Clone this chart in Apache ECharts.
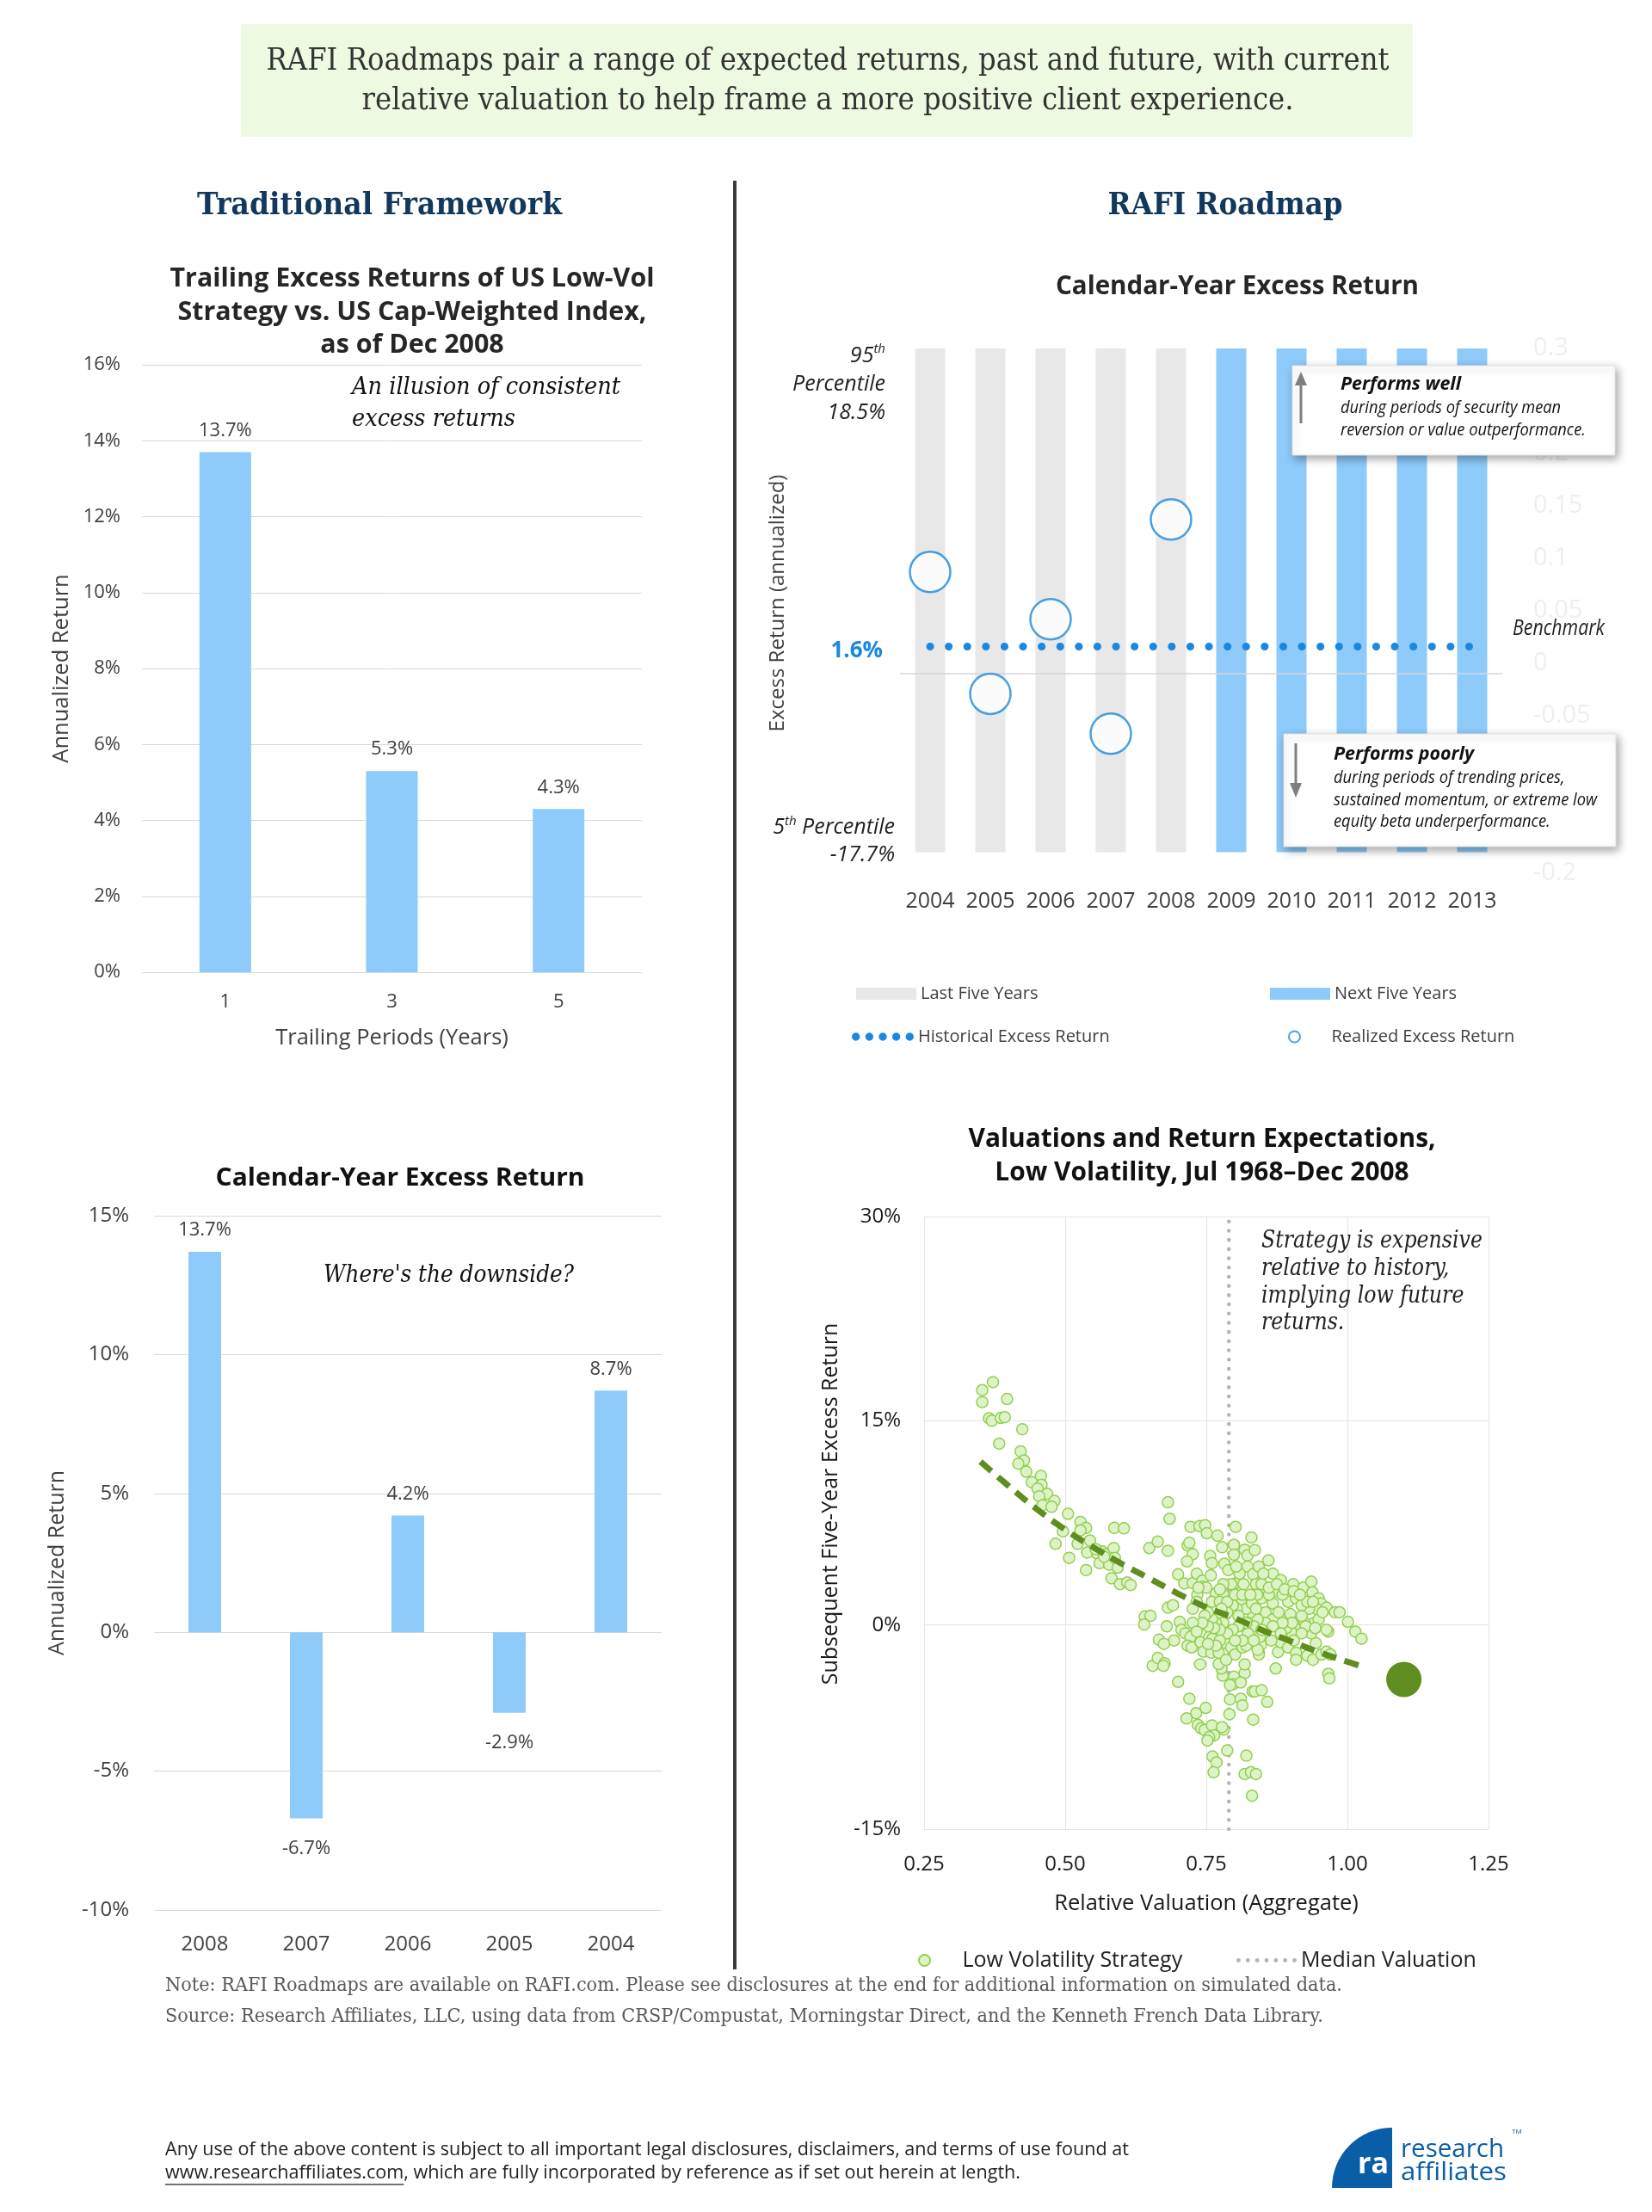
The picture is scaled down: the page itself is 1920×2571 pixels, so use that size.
<!DOCTYPE html>
<html><head><meta charset="utf-8">
<script src="https://cdn.jsdelivr.net/npm/echarts@6/dist/echarts.min.js"></script>
<style>html,body{margin:0;padding:0;background:#fff}#c{width:1920px;height:2571px}</style>
</head><body><div id="c"></div>
<script>
// ---------------- DATA ----------------
const trailingPeriods = ['1', '3', '5'];
const trailingExcess = [13.7, 5.3, 4.3];

const calYears = ['2008', '2007', '2006', '2005', '2004'];
const calExcess = [13.7, -6.7, 4.2, -2.9, 8.7];

const roadmapYears = ['2004','2005','2006','2007','2008','2009','2010','2011','2012','2013'];
const lastFiveUpper = [30, 30, 30, 30, 30, '-', '-', '-', '-', '-'];
const lastFiveLower = [-18, -18, -18, -18, -18, '-', '-', '-', '-', '-'];
const nextFiveUpper = ['-', '-', '-', '-', '-', 30, 30, 30, 30, 30];
const nextFiveLower = ['-', '-', '-', '-', '-', -18, -18, -18, -18, -18];
const historicalExcess = [1.6, 1.6, 1.6, 1.6, 1.6, 1.6, 1.6, 1.6, 1.6, 1.6];
const realizedExcess = [8.7, -2.9, 4.2, -6.7, 13.7, '-', '-', '-', '-', '-'];
const roadmapBaseLevel = -1;

const lowVolValuation = [
0.372,0.353,0.353,0.397,0.365,0.370,0.386,0.393,0.424,0.383,0.421,0.427,0.417,0.431,0.457,0.441,0.458,0.451,0.468,0.454,
0.481,0.460,0.476,0.505,0.527,0.537,0.527,0.496,0.522,0.544,0.483,0.507,0.539,0.557,0.537,0.566,0.572,0.586,0.561,0.578,
0.588,0.593,0.582,0.597,0.610,0.616,0.587,0.604,0.554,0.569,0.649,0.664,0.682,0.682,0.685,0.722,0.738,0.748,0.751,0.770,
0.802,0.830,0.717,0.720,0.726,0.716,0.700,0.711,0.726,0.733,0.743,0.744,0.757,0.760,0.758,0.734,0.767,0.780,0.778,0.799,
0.799,0.782,0.789,0.801,0.818,0.823,0.836,0.823,0.833,0.843,0.860,0.868,0.882,0.838,0.851,0.875,0.904,0.922,0.936,0.938,
0.949,0.953,0.963,0.978,0.986,1.001,1.014,1.025,0.641,0.651,0.640,0.682,0.691,0.680,0.703,0.706,0.713,0.722,0.693,0.666,
0.675,0.717,0.724,0.740,0.745,0.759,0.772,0.755,0.761,0.782,0.785,0.794,0.801,0.814,0.821,0.843,0.847,0.877,0.882,0.895,
0.909,0.909,0.929,0.939,0.944,0.954,0.963,0.970,0.966,0.963,0.655,0.664,0.676,0.674,0.700,0.739,0.720,0.732,0.715,0.749,
0.735,0.741,0.747,0.760,0.764,0.755,0.752,0.781,0.778,0.787,0.761,0.768,0.763,0.821,0.818,0.829,0.838,0.831,0.791,0.792,
0.811,0.814,0.832,0.836,0.848,0.858,0.833,0.818,0.818,0.799,0.797,0.811,0.792,0.779,0.777,0.772,0.785,0.873,0.966,0.968,
0.843,0.841,0.936,0.941,0.949,0.924,0.909,0.902,0.892,0.945,0.932,0.919,0.895,0.909,0.885,0.868,0.855,0.848,0.861,0.848,
0.840,0.889,0.868,0.855,0.841,0.834,0.824,0.828,0.814,0.811,0.821,0.804,0.797,0.787,0.774,0.780,0.767,0.760,0.753,0.747,
0.733,0.726,0.760,0.774,0.787,0.801,0.814,0.831,0.838,0.878,0.899,0.919,0.929,0.902,0.885,0.868,0.855,0.845,0.834,0.821,
0.807,0.797,0.787,0.774,0.764,0.753,0.743,0.726,0.926,0.943,0.919,0.905,0.861,0.875,0.889,0.851,0.816,0.809,0.803,0.794,
0.780,0.774,0.750,0.736,0.905,0.916,0.939,0.956,0.828,0.848,0.865,0.882,0.814,0.801,0.774,0.767,0.753,0.733,0.777,0.807
];
const lowVolReturn = [
17.84,17.25,16.37,16.60,15.18,15.00,15.21,15.26,14.38,13.32,12.75,12.08,11.85,11.26,10.95,10.48,10.30,10.02,9.63,9.45,
9.11,8.80,8.68,8.16,7.57,7.13,6.95,6.87,5.96,6.20,5.96,4.93,5.32,5.24,4.03,5.40,5.19,5.65,4.54,4.42,
4.93,4.21,3.43,3.00,3.12,2.94,7.13,7.10,5.58,5.01,5.65,6.12,5.45,9.01,7.80,7.20,7.26,7.33,6.74,6.56,
7.20,6.43,5.84,6.04,5.19,4.67,3.72,3.05,3.07,3.77,3.25,2.81,5.06,4.54,3.64,2.22,2.32,2.22,5.71,5.89,
5.16,4.49,4.03,3.05,5.53,5.11,5.50,4.29,3.72,4.29,4.75,3.77,3.30,3.00,2.81,2.48,3.00,2.74,3.18,2.40,
1.96,1.58,1.27,0.93,0.93,0.23,-0.49,-1.01,0.62,0.67,0.03,1.27,1.45,-0.10,0.23,-0.36,-0.62,-0.88,-1.14,-1.08,
-1.39,-1.52,-1.65,-1.27,-1.96,-2.04,-2.04,-0.88,-1.01,-0.88,-1.34,-1.65,-2.17,-1.65,-1.52,-2.04,-1.45,-1.99,-1.27,-1.65,
-2.04,-2.56,-2.25,-2.56,-1.34,-2.17,-1.96,-2.17,-0.49,-0.36,-3.00,-2.43,-2.81,-3.00,-4.18,-2.89,-5.42,-6.48,-6.87,-6.09,
-7.33,-7.59,-7.72,-7.38,-8.11,-8.24,-8.49,-7.69,-7.51,-9.22,-9.66,-10.10,-10.82,-9.60,-10.95,-10.82,-10.95,-12.55,-6.56,-5.47,
-5.42,-5.91,-4.88,-4.88,-4.80,-5.65,-6.95,-3.54,-2.89,-3.80,-4.36,-4.23,-4.42,-3.72,-3.20,-2.87,-2.56,-3.20,-3.59,-3.92,
-2.17,-1.83,-0.62,0.15,0.41,0.15,-0.31,-0.62,-0.23,1.19,1.19,0.67,1.70,1.96,2.22,1.58,0.93,1.96,2.22,3.00,
2.22,0.41,0.41,0.15,0.41,-0.10,-0.62,0.93,0.67,1.70,1.19,1.19,1.45,0.93,0.67,0.15,0.15,0.41,0.93,0.67,
1.70,1.19,1.70,1.70,1.70,2.22,2.22,1.58,1.19,0.93,0.80,1.45,1.70,0.15,0.15,-0.10,-0.62,-0.88,-1.14,0.15,
-0.10,-0.36,-0.62,-0.36,-0.23,-0.10,0.15,0.15,-0.10,-0.23,-0.62,-1.14,2.74,3.00,2.61,3.77,3.00,3.77,4.29,3.00,
3.00,2.61,2.74,2.74,2.48,2.22,1.70,0.93,2.22,-0.36,-1.14,-0.62,-1.14,-1.14,-1.14,-1.52,-1.39,-0.49,1.19,0.67
];
const trendValuation = [0.35, 0.40, 0.45, 0.50, 0.55, 0.60, 0.65, 0.70, 0.75, 0.80, 0.85, 0.90, 0.95, 1.00, 1.03];
const trendReturn = [12.0, 10.2, 8.5, 7.0, 5.7, 4.5, 3.4, 2.3, 1.3, 0.5, -0.4, -1.2, -2.0, -2.7, -3.1];
const currentValuation = [1.10];
const currentReturn = [-4.0];
const medianValuation = 0.79;

// ---------------- STYLE ----------------
const BLUE = '#8ecbfa', GRAY = '#e8e8e8', DOT = '#1a88e0', DKGREEN = '#5f8d1f';
const NAVY = '#12385c', TXT = '#404040';
const SANS = 'Open Sans', SERIF = 'DejaVu Serif';

const mctx = document.createElement('canvas').getContext('2d');
function mw(text, size, family, weight, fstyle) {
  mctx.font = `${fstyle || 'normal'} ${weight || 'normal'} ${size}px ${family}`;
  return mctx.measureText(text).width;
}
function T(text, x, y, size, o) {
  o = o || {};
  const family = o.family || SANS, weight = o.weight || 'normal', fstyle = o.fstyle || 'normal';
  let sx = o.sx || 1;
  if (o.w) sx = o.w / mw(o.fit || text, size, family, weight, fstyle);
  return {
    type: 'text', x: x, y: y, scaleX: sx, rotation: o.rot || 0, z: o.z || 100, silent: true,
    style: { text: text, fontSize: size, fontFamily: family, fontWeight: weight, fontStyle: fstyle,
      fill: o.fill || '#222', align: o.align || 'left', verticalAlign: 'middle' }
  };
}
function scaleFor(text, size, family, weight, fstyle, w) { return w / mw(text, size, family, weight, fstyle); }

function dotsPath(n, r, step) {
  let p = '';
  for (let i = 0; i < n; i++) { const c = r + i * step; p += `M${c - r},${r}a${r},${r} 0 1,0 ${2*r},0a${r},${r} 0 1,0 ${-2*r},0`; }
  return 'path://' + p;
}

const G = [];
// banner
G.push({ type: 'rect', shape: { x: 280, y: 28, width: 1362, height: 131 }, style: { fill: '#eef9e1' }, z: 90, silent: true });
const bSx = scaleFor('RAFI Roadmaps pair a range of expected returns, past and future, with current', 35, SERIF, 'normal', 'normal', 1305);
G.push(T('RAFI Roadmaps pair a range of expected returns, past and future, with current', 962, 72, 35, { family: SERIF, sx: bSx, align: 'center', fill: '#333' }));
G.push(T('relative valuation to help frame a more positive client experience.', 962, 118, 35, { family: SERIF, sx: bSx, align: 'center', fill: '#333' }));
// headings
G.push(T('Traditional Framework', 441, 240, 35, { family: SERIF, weight: 'bold', w: 424, align: 'center', fill: NAVY }));
G.push(T('RAFI Roadmap', 1424, 240, 35, { family: SERIF, weight: 'bold', w: 273, align: 'center', fill: NAVY }));
// divider
G.push({ type: 'line', shape: { x1: 854, y1: 210, x2: 854, y2: 2289 }, style: { stroke: '#3c3c3c', lineWidth: 4 }, z: 90, silent: true });

// top-left title
const tlSx = scaleFor('Trailing Excess Returns of US Low-Vol', 30, SANS, 'bold', 'normal', 563);
G.push(T('Trailing Excess Returns of US Low-Vol', 479, 324, 30, { weight: 'bold', sx: tlSx, align: 'center', fill: '#262626' }));
G.push(T('Strategy vs. US Cap-Weighted Index,', 479, 363, 30, { weight: 'bold', sx: tlSx, align: 'center', fill: '#262626' }));
G.push(T('as of Dec 2008', 479, 401, 30, { weight: 'bold', sx: tlSx, align: 'center', fill: '#262626' }));
const a1Sx = scaleFor('An illusion of consistent', 28, SERIF, 'normal', 'italic', 312);
G.push(T('An illusion of consistent', 409, 451, 28, { family: SERIF, fstyle: 'italic', sx: a1Sx, fill: '#111' }));
G.push(T('excess returns', 409, 488, 28, { family: SERIF, fstyle: 'italic', sx: a1Sx, fill: '#111' }));

// top-right
G.push(T('Calendar-Year Excess Return', 1438, 333, 30, { weight: 'bold', w: 422, align: 'center', fill: '#262626' }));
G.push(T('Excess Return (annualized)', 904, 701, 24, { align: 'center', rot: Math.PI / 2, fill: TXT }));
(function () {
  const s = 25, ss = 15;
  const wth = mw('th', ss, SANS, 'normal', 'italic');
  G.push(T('th', 1029, 406, ss, { fstyle: 'italic', align: 'right' }));
  G.push(T('95', 1029 - wth, 414, s, { fstyle: 'italic', align: 'right' }));
  G.push(T('Percentile', 1029, 447, s, { fstyle: 'italic', align: 'right' }));
  G.push(T('18.5%', 1029, 480, s, { fstyle: 'italic', align: 'right' }));
  const wp = mw(' Percentile', s, SANS, 'normal', 'italic');
  G.push(T(' Percentile', 1040, 962, s, { fstyle: 'italic', align: 'right' }));
  G.push(T('th', 1040 - wp, 955, ss, { fstyle: 'italic', align: 'right' }));
  G.push(T('5', 1040 - wp - wth, 962, s, { fstyle: 'italic', align: 'right' }));
  G.push(T('-17.7%', 1040, 994, s, { fstyle: 'italic', align: 'right' }));
})();
G.push(T('1.6%', 1026, 757, 26, { weight: 'bold', align: 'right', fill: DOT }));
G.push(T('Benchmark', 1758, 731, 25, { fstyle: 'italic', w: 107, fill: '#222' }));
// boxes
const boxStyle = { fill: '#fff', stroke: '#e2e2e2', lineWidth: 1, shadowBlur: 10, shadowColor: 'rgba(0,0,0,0.35)', shadowOffsetX: 3, shadowOffsetY: 4 };
const boxSx = scaleFor('sustained momentum, or extreme low', 20, SANS, 'normal', 'italic', 306);
G.push({ type: 'rect', shape: { x: 1502, y: 425, width: 375, height: 104 }, style: boxStyle, z: 95, silent: true });
G.push({ type: 'line', shape: { x1: 1512, y1: 492, x2: 1512, y2: 446 }, style: { stroke: '#7f7f7f', lineWidth: 3 }, z: 96, silent: true });
G.push({ type: 'polygon', shape: { points: [[1505, 448], [1519, 448], [1512, 432]] }, style: { fill: '#7f7f7f' }, z: 96, silent: true });
G.push(T('Performs well', 1558, 447, 21, { weight: 'bold', fstyle: 'italic', w: 140, fill: '#111' }));
G.push(T('during periods of security mean', 1558, 474, 20, { fstyle: 'italic', sx: boxSx, fill: '#111' }));
G.push(T('reversion or value outperformance.', 1558, 500, 20, { fstyle: 'italic', sx: boxSx, fill: '#111' }));
G.push({ type: 'rect', shape: { x: 1492, y: 853, width: 386, height: 131 }, style: boxStyle, z: 95, silent: true });
G.push({ type: 'line', shape: { x1: 1506, y1: 864, x2: 1506, y2: 912 }, style: { stroke: '#7f7f7f', lineWidth: 3 }, z: 96, silent: true });
G.push({ type: 'polygon', shape: { points: [[1499, 910], [1513, 910], [1506, 927]] }, style: { fill: '#7f7f7f' }, z: 96, silent: true });
G.push(T('Performs poorly', 1550, 877, 21, { weight: 'bold', fstyle: 'italic', w: 163, fill: '#111' }));
G.push(T('during periods of trending prices,', 1550, 904, 20, { fstyle: 'italic', sx: boxSx, fill: '#111' }));
G.push(T('sustained momentum, or extreme low', 1550, 930, 20, { fstyle: 'italic', sx: boxSx, fill: '#111' }));
G.push(T('equity beta underperformance.', 1550, 955, 20, { fstyle: 'italic', sx: boxSx, fill: '#111' }));

// bottom-left
G.push(T('Calendar-Year Excess Return', 465, 1370, 29, { weight: 'bold', w: 429, align: 'center', fill: '#111' }));
G.push(T("Where's the downside?", 376, 1483, 28, { family: SERIF, fstyle: 'italic', w: 291, fill: '#111' }));

// scatter
const scSx = scaleFor('Valuations and Return Expectations,', 30, SANS, 'bold', 'normal', 543);
G.push(T('Valuations and Return Expectations,', 1397, 1324, 30, { weight: 'bold', sx: scSx, align: 'center', fill: '#111' }));
G.push(T('Low Volatility, Jul 1968\u2013Dec 2008', 1397, 1363, 30, { weight: 'bold', sx: scSx, align: 'center', fill: '#111' }));
const anSx = scaleFor('Strategy is expensive', 27, SERIF, 'normal', 'italic', 257);
['Strategy is expensive', 'relative to history,', 'implying low future', 'returns.'].forEach((t, i) => {
  G.push(T(t, 1466, [1443, 1475, 1507, 1538][i], 27, { family: SERIF, fstyle: 'italic', sx: anSx, fill: '#222' }));
});
G.push(T('Subsequent Five-Year Excess Return', 966, 1748, 25, { align: 'center', rot: Math.PI / 2, fill: '#1a1a1a' }));

// footer
const ntSx = scaleFor('Note: RAFI Roadmaps are available on RAFI.com. Please see disclosures at the end for additional information on simulated data.', 23, SERIF, 'normal', 'normal', 1368);
G.push(T('Note: RAFI Roadmaps are available on RAFI.com. Please see disclosures at the end for additional information on simulated data.', 192, 2308, 23, { family: SERIF, sx: ntSx, fill: '#595959' }));
G.push(T('Source: Research Affiliates, LLC, using data from CRSP/Compustat, Morningstar Direct, and the Kenneth French Data Library.', 192, 2344, 23, { family: SERIF, sx: ntSx, fill: '#595959' }));
const dSx = scaleFor('Any use of the above content is subject to all important legal disclosures, disclaimers, and terms of use found at', 22, SANS, 'normal', 'normal', 1120);
G.push(T('Any use of the above content is subject to all important legal disclosures, disclaimers, and terms of use found at', 192, 2499, 22, { sx: dSx, fill: '#222' }));
G.push(T('www.researchaffiliates.com, which are fully incorporated by reference as if set out herein at length.', 192, 2526, 22, { sx: dSx, fill: '#222' }));
const urlW = mw('www.researchaffiliates.com', 22, SANS, 'normal', 'normal') * dSx;
G.push({ type: 'line', shape: { x1: 192, y1: 2539, x2: 192 + urlW, y2: 2539 }, style: { stroke: '#444', lineWidth: 1.5 }, z: 100, silent: true });
// logo
G.push({ type: 'sector', shape: { cx: 1618, cy: 2543, r: 70, r0: 0, startAngle: Math.PI, endAngle: Math.PI * 1.5, clockwise: true }, style: { fill: '#0a5ea8' }, z: 100, silent: true });
G.push(T('ra', 1596, 2516, 34, { weight: 'bold', align: 'center', fill: '#fff', z: 101 }));
G.push(T('research', 1628, 2498, 30, { w: 120, fill: '#0a5ea8' }));
G.push(T('affiliates', 1628, 2525, 30, { w: 123, fill: '#0a5ea8' }));
G.push(T('TM', 1757, 2478, 8, { fill: '#0a5ea8' }));

// ---------------- CHART ----------------
const chart = echarts.init(document.getElementById('c'), null, { renderer: 'canvas' });
const lblTL = { show: true, position: 'top', distance: 14, fontSize: 22, color: TXT, fontFamily: SANS, formatter: p => p.value.toFixed(1) + '%' };
const lg = (name, icon, left, top, w, h, fs, col) => ({ data: [{ name: name, icon: icon }], left: left, top: top, itemWidth: w, itemHeight: h,
  padding: 0, selectedMode: false, textStyle: { fontSize: fs, color: col } });

const option = {
  animation: false,
  backgroundColor: '#ffffff',
  textStyle: { fontFamily: SANS },
  grid: [
    { left: 165, top: 424, width: 581, height: 706 },
    { left: 1046, top: 405, width: 700, height: 610 },
    { left: 179, top: 1413, width: 590, height: 807 },
    { left: 1074, top: 1414, width: 656, height: 712 }
  ],
  xAxis: [
    { gridIndex: 0, type: 'category', data: trailingPeriods, axisLine: { show: false }, axisTick: { show: false },
      axisLabel: { fontSize: 22, color: TXT, margin: 24 },
      name: 'Trailing Periods (Years)', nameLocation: 'middle', nameGap: 64, nameTextStyle: { fontSize: 25.5, color: TXT } },
    { gridIndex: 1, type: 'category', data: roadmapYears, axisLine: { show: false, onZero: false }, axisTick: { show: false },
      axisLabel: { fontSize: 25, color: TXT, margin: 20, interval: 0 } },
    { gridIndex: 2, type: 'category', data: calYears, axisLine: { show: false, onZero: false }, axisTick: { show: false },
      axisLabel: { fontSize: 24, color: TXT, margin: 28 } },
    { gridIndex: 3, type: 'value', min: 0.25, max: 1.25, interval: 0.25, axisLine: { show: false }, axisTick: { show: false },
      splitLine: { lineStyle: { color: '#e3e3e3' } },
      axisLabel: { fontSize: 24, color: '#1a1a1a', margin: 29, formatter: v => v.toFixed(2) },
      name: 'Relative Valuation (Aggregate)', nameLocation: 'middle', nameGap: 74, nameTextStyle: { fontSize: 25.5, color: '#1a1a1a' } }
  ],
  yAxis: [
    { gridIndex: 0, type: 'value', min: 0, max: 16, interval: 2, axisLine: { show: false }, axisTick: { show: false },
      axisLabel: { formatter: '{value}%', fontSize: 22, color: TXT, margin: 25 },
      splitLine: { lineStyle: { color: '#d9d9d9' } },
      name: 'Annualized Return', nameLocation: 'middle', nameGap: 80, nameRotate: 90, nameTextStyle: { fontSize: 25.5, color: TXT } },
    { gridIndex: 1, type: 'value', min: -20, max: 30, interval: 5, position: 'right', axisLine: { show: false }, axisTick: { show: false },
      axisLabel: { formatter: v => String(v / 100), fontSize: 29, color: '#eeeeee', margin: 36 }, splitLine: { show: false } },
    { gridIndex: 2, type: 'value', min: -10, max: 15, interval: 5, axisLine: { show: false }, axisTick: { show: false },
      axisLabel: { formatter: '{value}%', fontSize: 24, color: TXT, margin: 29 },
      splitLine: { lineStyle: { color: '#d9d9d9' } },
      name: 'Annualized Return', nameLocation: 'middle', nameGap: 100, nameRotate: 90, nameTextStyle: { fontSize: 25, color: TXT } },
    { gridIndex: 3, type: 'value', min: -15, max: 30, interval: 15, axisLine: { show: false }, axisTick: { show: false },
      axisLabel: { formatter: '{value}%', fontSize: 24, color: '#1a1a1a', margin: 27 },
      splitLine: { lineStyle: { color: '#e3e3e3' } } }
  ],
  legend: [
    lg('Last Five Years', 'rect', 995, 1145, 70, 14, 20, TXT),
    lg('Next Five Years', 'rect', 1476, 1145, 70, 14, 20, TXT),
    lg('Historical Excess Return', dotsPath(5, 4.5, 15), 990, 1195, 72, 10, 20, TXT),
    lg('Realized Excess Return', 'circle', 1497, 1195, 76, 13, 20, TXT),
    lg('Low Volatility Strategy', 'circle', 1067, 2266, 78, 13, 25, '#222'),
    lg('Median Valuation', dotsPath(7, 2.5, 11), 1437, 2266, 70, 6, 25, '#222')
  ],
  graphic: { elements: G },
  series: [
    { type: 'bar', xAxisIndex: 0, yAxisIndex: 0, data: trailingExcess, barWidth: 60, itemStyle: { color: BLUE }, label: lblTL },

    { name: 'Last Five Years', type: 'bar', xAxisIndex: 1, yAxisIndex: 1, stack: 'band', data: lastFiveUpper, barWidth: 35, itemStyle: { color: GRAY } },
    { name: 'Last Five Years', type: 'bar', xAxisIndex: 1, yAxisIndex: 1, stack: 'band', data: lastFiveLower, barWidth: 35, itemStyle: { color: GRAY } },
    { name: 'Next Five Years', type: 'bar', xAxisIndex: 1, yAxisIndex: 1, stack: 'band', data: nextFiveUpper, barWidth: 35, itemStyle: { color: BLUE } },
    { name: 'Next Five Years', type: 'bar', xAxisIndex: 1, yAxisIndex: 1, stack: 'band', data: nextFiveLower, barWidth: 35, itemStyle: { color: BLUE } },
    { name: 'Historical Excess Return', type: 'line', xAxisIndex: 1, yAxisIndex: 1, data: historicalExcess, symbol: 'none', z: 5,
      lineStyle: { color: DOT, width: 9, type: [0.1, 21.5], cap: 'round' }, itemStyle: { color: DOT },
      markLine: { silent: true, symbol: 'none', label: { show: false }, lineStyle: { color: '#d6d6d6', width: 1.5, type: 'solid' }, data: [{ yAxis: roadmapBaseLevel }] } },
    { name: 'Realized Excess Return', type: 'scatter', xAxisIndex: 1, yAxisIndex: 1, data: realizedExcess, symbolSize: 47, z: 6,
      itemStyle: { color: '#ffffff', borderColor: DOT, borderWidth: 2.5 } },

    { type: 'bar', xAxisIndex: 2, yAxisIndex: 2, barWidth: 38, itemStyle: { color: BLUE },
      data: calExcess.map(v => ({ value: v, label: { position: v < 0 ? 'bottom' : 'top', distance: v < 0 ? 24 : 14 } })),
      label: { show: true, fontSize: 22, color: TXT, formatter: p => p.value.toFixed(1) + '%' } },

    { name: 'Median Valuation', type: 'line', xAxisIndex: 3, yAxisIndex: 3, data: [[medianValuation, -15], [medianValuation, 30]], symbol: 'none', z: 1,
      lineStyle: { color: '#b4b4b4', width: 4.5, type: [0.1, 10.6], cap: 'round' }, itemStyle: { color: '#b4b4b4' } },
    { name: 'Low Volatility Strategy', type: 'scatter', xAxisIndex: 3, yAxisIndex: 3, symbolSize: 13, z: 2,
      data: lowVolValuation.map((x, i) => [x, lowVolReturn[i]]),
      itemStyle: { color: '#def2c8', borderColor: '#92d050', borderWidth: 1.5, opacity: 1 } },
    { type: 'line', xAxisIndex: 3, yAxisIndex: 3, smooth: true, symbol: 'none', z: 3,
      data: trendValuation.map((x, i) => [x, trendReturn[i]]),
      lineStyle: { color: DKGREEN, width: 7, type: [17, 10] } },
    { type: 'scatter', xAxisIndex: 3, yAxisIndex: 3, symbolSize: 41, z: 4,
      data: currentValuation.map((x, i) => [x, currentReturn[i]]), itemStyle: { color: DKGREEN, opacity: 1 } }
  ]
};
chart.setOption(option);
</script>
</body></html>
